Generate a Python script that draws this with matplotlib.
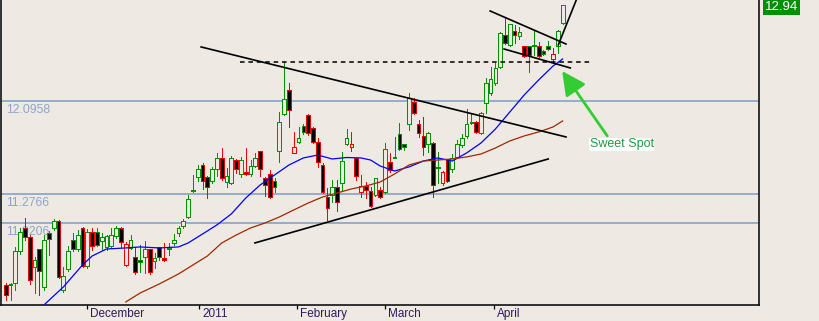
"""Daily candlestick chart with trend lines, moving averages and a 'Sweet Spot' callout."""
import matplotlib

matplotlib.use("Agg")
import matplotlib.pyplot as plt
import numpy as np

BG = "#eee9e3"
UP = "#009000"
DOWN = "#ee0000"
LEVEL = "#7f9cc4"
LEVEL_TXT = "#8fa5c8"
AXIS_TXT = "#2e1a5e"
MA_FAST = "#0000ff"
MA_SLOW = "#a02800"
NOTE = "#33cc33"

# daily bars, oldest first (about Nov 2010 - mid Apr 2011)
opens = [
    10.475, 10.475, 10.493, 10.775, 10.977, 10.898, 10.634, 10.792, 10.457, 10.933,
    10.977, 11.039, 10.431, 10.616, 10.871, 10.792, 10.977, 10.642, 10.942, 10.942,
    10.863, 10.810, 10.819, 10.907, 10.977, 10.651, 10.801, 10.722, 10.695, 10.722,
    10.792, 10.686, 10.810, 10.713, 10.792, 10.845, 10.933, 10.995, 11.074, 11.303,
    11.426, 11.532, 11.426, 11.391, 11.497, 11.594, 11.382, 11.374, 11.576, 11.453,
    11.471, 11.453, 11.523, 11.656, 11.418, 11.453, 11.391, 11.656, 11.982, 12.193,
    11.638, 11.735, 11.876, 11.973, 11.858, 11.735, 11.532, 11.250, 11.268, 11.338,
    11.374, 11.717, 11.691, 11.594, 11.294, 11.347, 11.303, 11.268, 11.312, 11.294,
    11.559, 11.594, 11.805, 11.717, 11.893, 12.087, 11.893, 11.788, 11.717, 11.726,
    11.506, 11.374, 11.585, 11.497, 11.603, 11.708, 11.788, 11.902, 11.911, 11.814,
    12.078, 12.167, 12.255, 12.396, 12.678, 12.590, 12.713, 12.669, 12.581, 12.581,
    12.581, 12.581, 12.537, 12.581, 12.466, 12.581, 12.783,
]
highs = [
    10.493, 10.493, 10.810, 10.977, 11.065, 10.915, 10.722, 10.792, 10.915, 10.951,
    11.056, 11.048, 10.634, 10.819, 10.933, 10.960, 10.986, 10.968, 10.977, 10.977,
    10.933, 10.915, 10.977, 10.995, 10.986, 10.854, 10.915, 10.810, 10.827, 10.863,
    10.792, 10.757, 10.810, 10.845, 10.845, 10.924, 10.995, 11.056, 11.268, 11.444,
    11.532, 11.550, 11.435, 11.515, 11.638, 11.682, 11.506, 11.612, 11.585, 11.603,
    11.682, 11.576, 11.638, 11.656, 11.426, 11.488, 11.418, 11.999, 12.440, 12.255,
    11.823, 11.867, 11.893, 11.982, 11.867, 11.770, 11.550, 11.330, 11.400, 11.400,
    11.647, 11.849, 11.823, 11.594, 11.444, 11.382, 11.338, 11.418, 11.338, 11.726,
    11.638, 11.779, 11.902, 11.717, 12.167, 12.123, 11.929, 11.955, 11.823, 11.735,
    11.647, 11.479, 11.585, 11.629, 11.753, 11.805, 12.026, 11.990, 11.920, 11.999,
    12.299, 12.396, 12.431, 12.704, 12.836, 12.775, 12.766, 12.748, 12.581, 12.581,
    12.722, 12.616, 12.545, 12.625, 12.563, 12.722, 12.942,
]
lows = [
    10.343, 10.343, 10.431, 10.748, 10.871, 10.484, 10.404, 10.387, 10.431, 10.739,
    10.960, 10.537, 10.413, 10.598, 10.775, 10.775, 10.634, 10.625, 10.783, 10.819,
    10.783, 10.783, 10.801, 10.889, 10.810, 10.642, 10.792, 10.572, 10.590, 10.581,
    10.572, 10.625, 10.695, 10.686, 10.739, 10.827, 10.907, 10.977, 11.065, 11.294,
    11.391, 11.321, 11.241, 11.374, 11.435, 11.400, 11.338, 11.365, 11.462, 11.426,
    11.444, 11.435, 11.515, 11.435, 11.259, 11.241, 11.294, 11.559, 11.973, 11.867,
    11.638, 11.726, 11.805, 11.797, 11.726, 11.515, 11.285, 11.048, 11.206, 11.127,
    11.312, 11.708, 11.656, 11.400, 11.250, 11.241, 11.162, 11.259, 11.241, 11.285,
    11.471, 11.594, 11.664, 11.664, 11.841, 11.982, 11.779, 11.620, 11.647, 11.250,
    11.374, 11.356, 11.382, 11.471, 11.594, 11.691, 11.770, 11.893, 11.814, 11.805,
    11.990, 12.149, 12.237, 12.387, 12.598, 12.581, 12.607, 12.642, 12.484, 12.352,
    12.501, 12.484, 12.501, 12.545, 12.440, 12.519, 12.775,
]
closes = [
    10.387, 10.484, 10.775, 10.942, 10.898, 10.519, 10.695, 10.598, 10.871, 10.880,
    11.039, 10.545, 10.554, 10.775, 10.792, 10.915, 10.642, 10.942, 10.819, 10.827,
    10.898, 10.907, 10.915, 10.977, 10.854, 10.836, 10.871, 10.590, 10.678, 10.792,
    10.590, 10.713, 10.722, 10.695, 10.801, 10.871, 10.977, 11.039, 11.233, 11.312,
    11.497, 11.391, 11.338, 11.497, 11.594, 11.418, 11.435, 11.594, 11.497, 11.576,
    11.453, 11.523, 11.594, 11.497, 11.356, 11.250, 11.338, 11.911, 12.114, 12.017,
    11.691, 11.770, 11.823, 11.814, 11.735, 11.559, 11.294, 11.153, 11.338, 11.206,
    11.567, 11.770, 11.717, 11.435, 11.347, 11.312, 11.171, 11.418, 11.250, 11.673,
    11.488, 11.603, 11.673, 11.691, 12.123, 11.990, 11.814, 11.691, 11.814, 11.356,
    11.515, 11.471, 11.391, 11.594, 11.717, 11.770, 11.893, 11.911, 11.823, 11.990,
    12.255, 12.290, 12.387, 12.695, 12.607, 12.775, 12.678, 12.704, 12.493, 12.501,
    12.590, 12.493, 12.510, 12.554, 12.510, 12.713, 12.940,
]

# moving averages (bar index, value)
ma_fast_idx = [8, 12, 16, 18, 21, 25, 28, 32, 36, 38, 41, 44, 47, 50, 53, 56, 59, 62, 65,
               68, 71, 74, 76, 78, 81, 84, 87, 90, 93, 96, 99, 102, 105, 108, 111, 114, 116]
ma_fast = [10.300, 10.457, 10.651, 10.730, 10.792, 10.801, 10.810, 10.801, 10.810, 10.845,
           10.924, 11.004, 11.101, 11.241, 11.356, 11.444, 11.532, 11.594, 11.620, 11.585,
           11.598, 11.594, 11.576, 11.523, 11.479, 11.515, 11.567, 11.594, 11.567, 11.638,
           11.726, 11.849, 11.999, 12.149, 12.281, 12.404, 12.466]
ma_slow_idx = [25, 28, 32, 36, 39, 42, 45, 48, 51, 54, 57, 60, 63, 66, 69, 72, 75, 78, 81,
               84, 87, 90, 93, 96, 99, 102, 105, 108, 111, 114, 116]
ma_slow = [10.325, 10.404, 10.484, 10.572, 10.651, 10.730, 10.845, 10.915, 10.977, 11.021,
           11.074, 11.136, 11.197, 11.250, 11.285, 11.321, 11.347, 11.382, 11.453, 11.532,
           11.567, 11.576, 11.585, 11.603, 11.629, 11.682, 11.744, 11.788, 11.823, 11.867,
           11.920]

levels = [12.0958, 11.2766, 11.0206]
month_labels = ["December", "2011", "February", "March", "April"]
month_idx = [17.0, 40.3, 60.6, 78.9, 101.8]

# hand-drawn lines: (x0, x1), (y0, y1) in bar index / price
resistance = ([40.7, 116.7], [12.572, 11.779])
support = ([51.9, 113.0], [10.845, 11.585])
breakout_high = ([48.8, 121.7], [12.440, 12.440])
flag_top = ([100.9, 116.7], [12.889, 12.598])
flag_bottom = ([103.8, 117.6], [12.554, 12.387])
thrust = ([115.1, 119.5], [12.590, 13.055])

note_text = "Sweet Spot"
note_xy = (128.3, 11.713)
note_tail = (125.3, 11.788)
note_tip = (115.9, 12.360)


def main() -> None:
    plt.rcParams["font.family"] = ["Liberation Sans", "DejaVu Sans"]

    fig = plt.figure(figsize=(8.2, 3.21), dpi=100, facecolor=BG)
    ax = fig.add_axes([1 / 820, 16 / 321, 758 / 820, 305 / 321])
    ax.set_facecolor(BG)
    ax.set_xlim(-0.98, 156.9)
    ax.set_ylim(10.2984, 12.9857)

    for s in ("left", "bottom", "right"):
        ax.spines[s].set_color("black")
        ax.spines[s].set_linewidth(1.1)
    ax.spines["top"].set_visible(False)
    ax.set_yticks([])

    # support / resistance levels
    for lv in levels:
        ax.axhline(lv, color=LEVEL, lw=1.1, zorder=1)
        ax.annotate(f"{lv:.4f}", xy=(0, lv), xycoords=("axes fraction", "data"),
                    xytext=(5, -12), textcoords="offset pixels", ha="left", va="baseline",
                    color=LEVEL_TXT, fontsize=8.7, zorder=1)

    # candles: green/red by close vs previous close, filled when close < open
    o = np.array(opens)
    h = np.array(highs)
    lo = np.array(lows)
    c = np.array(closes)
    idx = np.arange(len(c))
    prev = np.concatenate([[o[0]], c[:-1]])
    cols = np.where(c >= prev, UP, DOWN)
    fills = np.where(c < o, "black", BG)
    ax.vlines(idx, lo, h, colors=cols, lw=0.72, zorder=3, antialiased=False)
    ax.bar(idx, np.maximum(np.abs(c - o), 0.002), bottom=np.minimum(o, c), width=0.78,
           color=fills, edgecolor=cols, linewidth=0.72, zorder=4, antialiased=False)

    ax.plot(ma_fast_idx, ma_fast, color=MA_FAST, lw=0.9, zorder=5)
    ax.plot(ma_slow_idx, ma_slow, color=MA_SLOW, lw=0.9, zorder=5)

    for xs, ys in (resistance, support, flag_top, flag_bottom, thrust):
        ax.plot(xs, ys, color="black", lw=1.2, zorder=6)
    ax.plot(*breakout_high, color="black", lw=1.1, ls=(0, (3, 2.5)), zorder=6)

    # month ticks along the bottom
    ax.set_xticks(month_idx)
    ax.set_xticklabels([])
    ax.tick_params(axis="x", direction="out", length=3, width=0.9, color="black")
    for lab, m in zip(month_labels, month_idx):
        ax.annotate(lab, xy=(m, 0), xycoords=("data", "axes fraction"),
                    xytext=(3, -12), textcoords="offset pixels", ha="left", va="baseline",
                    color=AXIS_TXT, fontsize=8.5, annotation_clip=False)

    # callout
    ax.annotate("", xy=note_tip, xytext=note_tail,
                arrowprops=dict(arrowstyle="-|>,head_length=0.8,head_width=0.4",
                                color=NOTE, lw=2.0, mutation_scale=18, shrinkA=0, shrinkB=0),
                zorder=7)
    ax.text(*note_xy, note_text, ha="center", va="center", color="#229944", fontsize=9,
            bbox=dict(boxstyle="square,pad=0.05", fc="white", ec="none"), zorder=7)

    # last price tag on the right
    ax.annotate(f"{closes[-1]:.2f}", xy=(1, closes[-1]), xycoords=("axes fraction", "data"),
                xytext=(6, -2), textcoords="offset pixels", ha="left", va="center",
                color="white", fontsize=9.5, annotation_clip=False,
                bbox=dict(boxstyle="square,pad=0.12", fc=UP, ec="none"))

    fig.savefig("out.png", dpi=100, facecolor=BG)
    plt.close(fig)


if __name__ == "__main__":
    main()
